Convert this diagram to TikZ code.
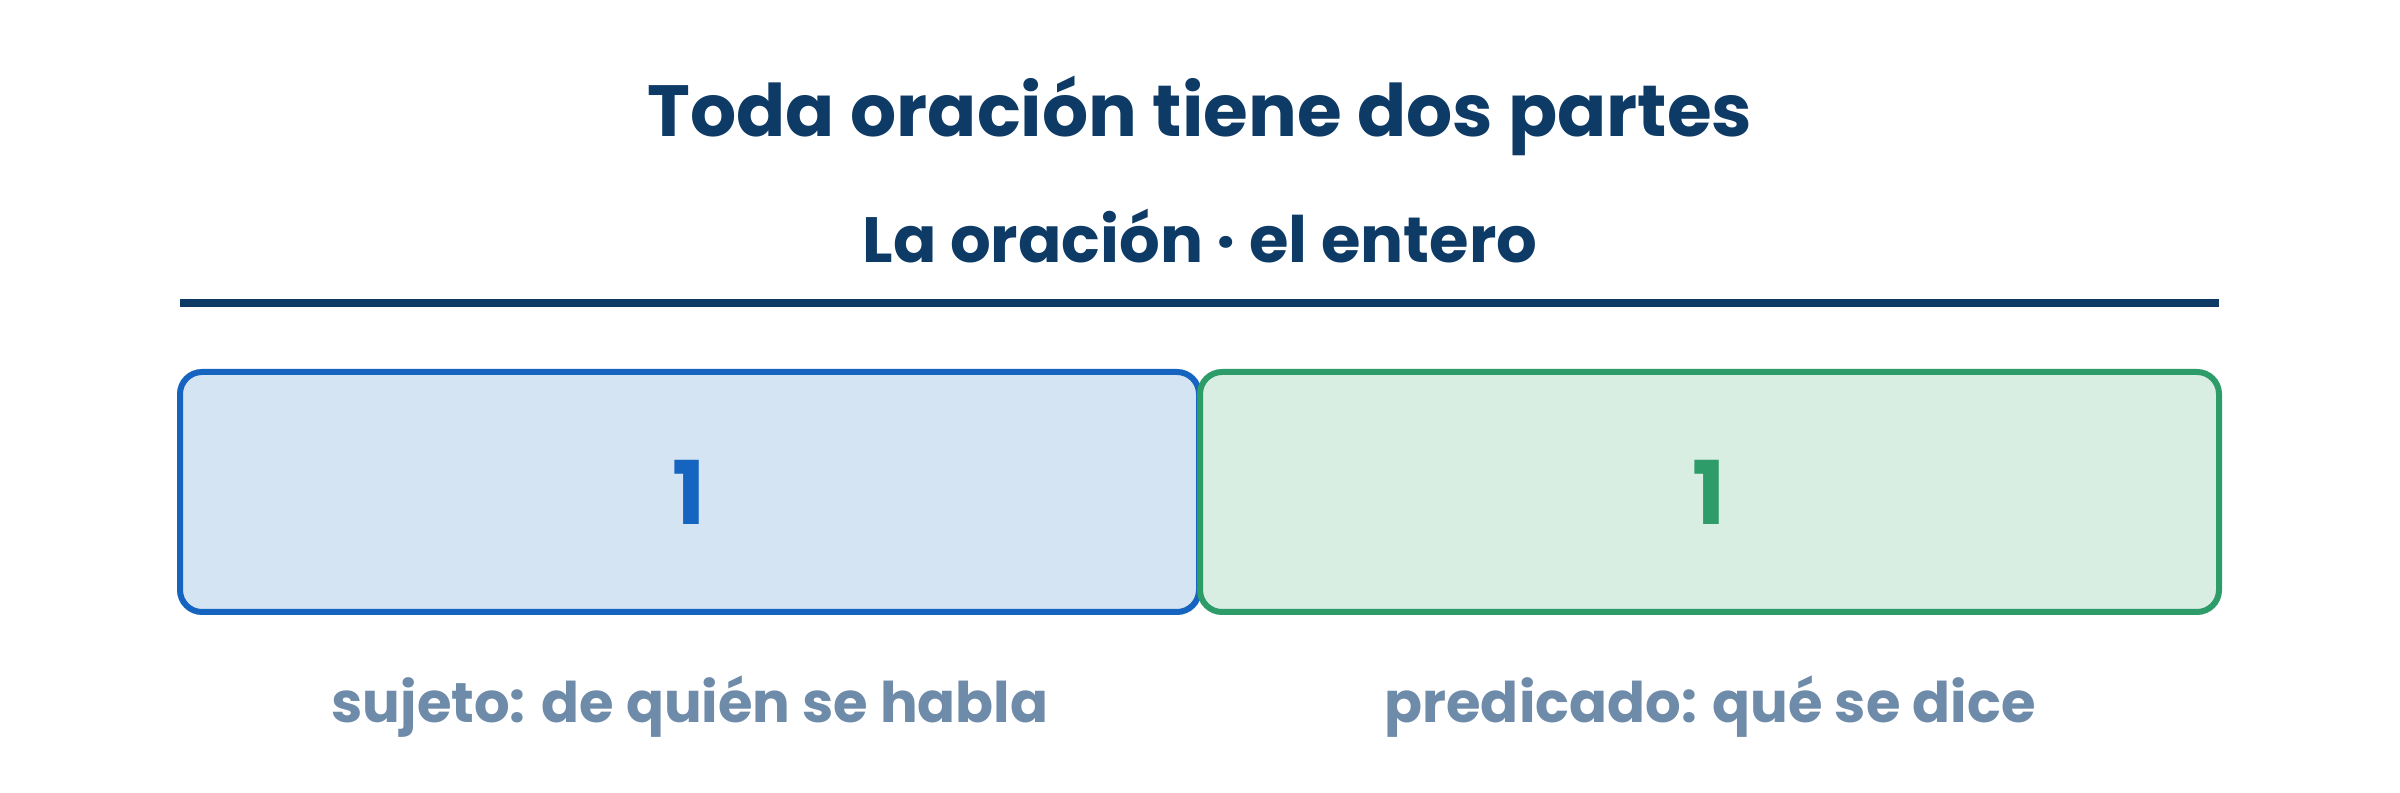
\documentclass[tikz,border=0pt]{standalone}
\usepackage{fontspec}
\setmainfont{Poppins}
\definecolor{navy}{HTML}{0D3B66}
\definecolor{bstroke}{HTML}{1565C0}
\definecolor{bfill}{HTML}{D5E4F3}
\definecolor{gstroke}{HTML}{2E9C69}
\definecolor{gfill}{HTML}{D8EEE3}
\definecolor{lbl}{HTML}{6E8BA9}
\begin{document}
\begin{tikzpicture}[x=1pt,y=1pt,
  titletext/.style={font=\fontsize{72.5}{80}\selectfont\bfseries, text=navy, anchor=base, inner sep=0},
  subtext/.style={font=\fontsize{64}{70}\selectfont\bfseries, text=navy, anchor=base, inner sep=0},
  partbox/.style={rounded corners=22pt, line width=6pt, minimum width=1019pt, minimum height=240pt, inner sep=0,
     font=\fontsize{88}{94}\selectfont\bfseries},
  lbltext/.style={font=\fontsize{56}{62}\selectfont\bfseries, text=lbl, anchor=base, inner sep=0}]
\useasboundingbox (0,0) rectangle (2400,792);
\fill[white] (0,0) rectangle (2400,792);
\node[titletext] (title) at (1200,655) {Toda oración tiene dos partes};
\node[subtext] (sub) at (1200,529) {La oración · el entero};
\coordinate (rl) at (180,489);
\coordinate (rr) at (2219,489);
\draw[navy, line width=8pt] (rl) -- (rr);
\node[partbox, draw=bstroke, fill=bfill, text=bstroke] (subj) at (689.5,300) {1};
\node[partbox, draw=gstroke, fill=gfill, text=gstroke] (pred) at (1709.5,300) {1};
\node[lbltext] (lsubj) at (690,69) {sujeto: de quién se habla};
\node[lbltext] (lpred) at (1710,69) {predicado: qué se dice};
\end{tikzpicture}
\end{document}
